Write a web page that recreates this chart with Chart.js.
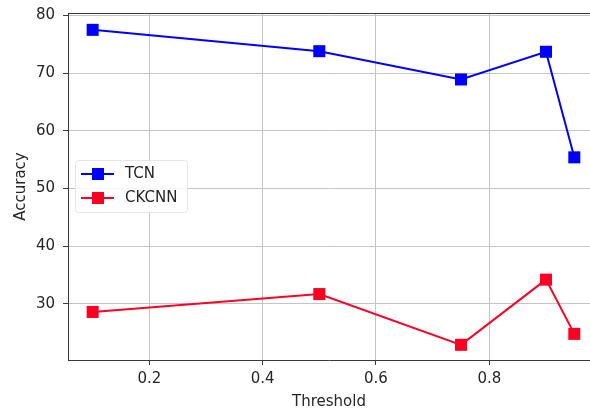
<!DOCTYPE html>
<html>
<head>
<meta charset="utf-8">
<script src="https://cdn.jsdelivr.net/npm/chart.js@4/dist/chart.umd.min.js"></script>
<style>
  html, body { margin: 0; padding: 0; background: #fff; overflow: hidden; }
  #wrap { width: 590px; height: 409px; }
</style>
</head>
<body>
<div id="wrap"><canvas id="chart" width="590" height="409"></canvas></div>
<script>
const thresholds = [0.1, 0.5, 0.75, 0.9, 0.95];
const tcnAcc = [77.5, 73.8, 68.9, 73.7, 55.4];
const ckcnnAcc = [28.6, 31.7, 22.9, 34.2, 24.8];
const xTicks = [0.2, 0.4, 0.6, 0.8];
const yTicks = [30, 40, 50, 60, 70, 80];

const FONT = "'DejaVu Sans', sans-serif";
const TEXT = "#262626";
const SPINE = "#3a3a3a";
const GRID = "#c4c4c4";

const pts = (ys) => thresholds.map((x, i) => ({ x, y: ys[i] }));
const noPad = (s) => { s.paddingTop = 0; s.paddingBottom = 0; s.paddingLeft = 0; s.paddingRight = 0; };

const frameAndLegend = {
  id: "frameAndLegend",
  afterDatasetsDraw(chart) {
    const { ctx, chartArea: a } = chart;
    ctx.save();
    ctx.strokeStyle = SPINE;
    ctx.lineWidth = 1;
    ctx.beginPath();
    ctx.moveTo(a.left, a.top + 0.5);
    ctx.lineTo(a.right, a.top + 0.5);
    ctx.stroke();

    // legend box
    const bx = 75, by = 160, bw = 112, bh = 52;
    ctx.fillStyle = "rgba(255,255,255,0.85)";
    ctx.strokeStyle = "#e6e6e6";
    ctx.beginPath();
    ctx.roundRect(bx + 0.5, by + 0.5, bw, bh, 3);
    ctx.fill();
    ctx.stroke();

    chart.data.datasets.forEach((ds, i) => {
      const y = 174 + i * 24;
      ctx.strokeStyle = ds.borderColor;
      ctx.lineWidth = 2;
      ctx.beginPath();
      ctx.moveTo(81, y);
      ctx.lineTo(114, y);
      ctx.stroke();
      ctx.fillStyle = ds.backgroundColor;
      ctx.fillRect(92, y - 6, 12, 12);
      ctx.fillStyle = TEXT;
      ctx.font = "15px " + FONT;
      ctx.textBaseline = "middle";
      ctx.textAlign = "left";
      ctx.fillText(ds.label, 125, y);
    });
    ctx.restore();
  },
};

new Chart(document.getElementById("chart"), {
  type: "line",
  data: {
    datasets: [
      { label: "TCN", data: pts(tcnAcc), borderColor: "#0000ff", backgroundColor: "#0000ff" },
      { label: "CKCNN", data: pts(ckcnnAcc), borderColor: "#ff0022", backgroundColor: "#ff0022" },
    ],
  },
  options: {
    responsive: false,
    animation: false,
    devicePixelRatio: 1,
    layout: { autoPadding: false, padding: { top: 13, right: 0, left: 0, bottom: 0 } },
    elements: {
      line: { borderWidth: 2, tension: 0 },
      point: { pointStyle: "rect", radius: 8.5, hoverRadius: 8.5, borderWidth: 0 },
    },
    clip: false,
    plugins: { legend: { display: false }, tooltip: { enabled: false } },
    scales: {
      x: {
        type: "linear",
        min: 0.0565,
        max: 0.9777,
        afterBuildTicks: (s) => { s.ticks = xTicks.map((v) => ({ value: v })); },
        afterFit: (s) => { s.height = 49; noPad(s); },
        ticks: { color: TEXT, font: { family: FONT, size: 15 }, padding: 5, maxRotation: 0, callback: (v) => v.toFixed(1) },
        grid: { color: GRID, lineWidth: 1, tickLength: 5, tickColor: SPINE },
        border: { color: SPINE, width: 1 },
        title: { display: true, text: "Threshold", color: TEXT, font: { family: FONT, size: 15 }, padding: { top: 0, bottom: -2 } },
      },
      y: {
        type: "linear",
        min: 20.27,
        max: 80.42,
        afterBuildTicks: (s) => { s.ticks = yTicks.map((v) => ({ value: v })); },
        afterFit: (s) => { s.width = 68; noPad(s); },
        ticks: { color: TEXT, font: { family: FONT, size: 15 }, padding: 8 },
        grid: { color: GRID, lineWidth: 1, tickLength: 5, tickColor: SPINE },
        border: { color: SPINE, width: 1 },
        title: { display: true, text: "Accuracy", color: TEXT, font: { family: FONT, size: 15 }, padding: { top: 12, bottom: 0 } },
      },
    },
  },
  plugins: [frameAndLegend],
});
</script>
</body>
</html>
